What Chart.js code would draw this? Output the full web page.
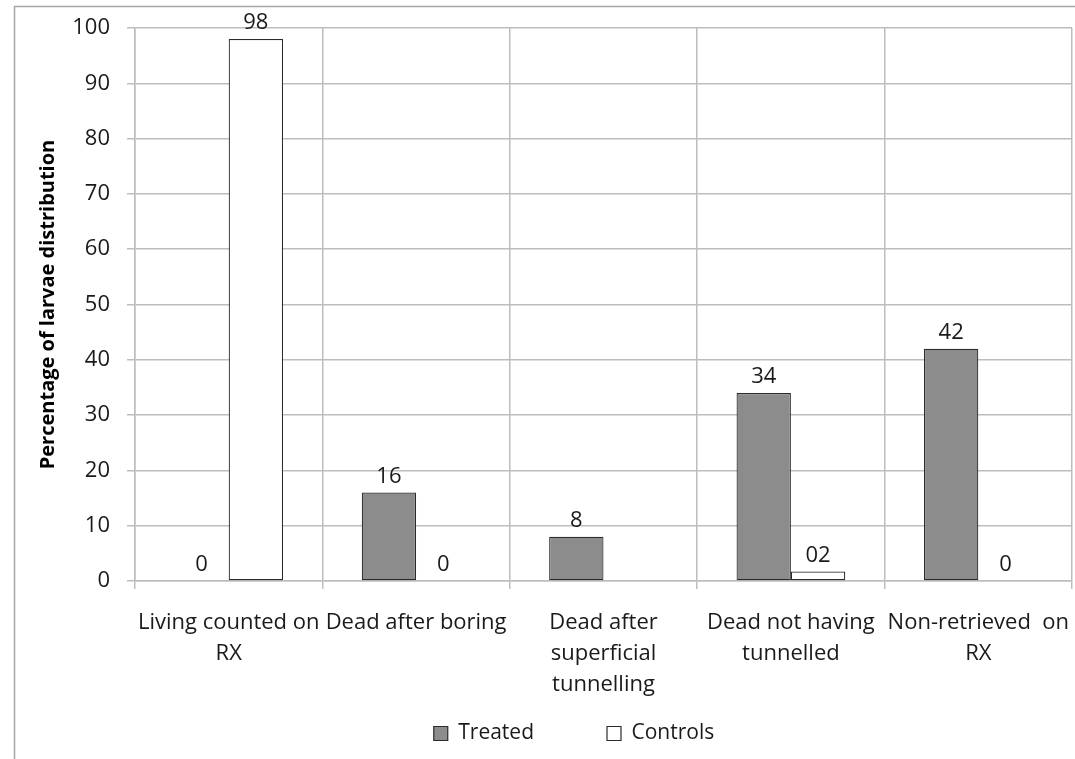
<!DOCTYPE html>
<html>
<head>
<meta charset="utf-8">
<script src="https://cdn.jsdelivr.net/npm/chart.js@4.4.0/dist/chart.umd.min.js"></script>
<style>
  html, body { margin: 0; padding: 0; background: #fff; }
  #wrap { width: 1075px; height: 759px; position: relative; }
</style>
</head>
<body>
<div id="wrap"><canvas id="c" width="1075" height="759"></canvas></div>
<script>
const categories = [
  ["Living counted on", "RX"],
  "Dead after boring",
  ["Dead after", "superficial", "tunnelling"],
  ["Dead not having", "tunnelled"],
  ["Non-retrieved  on", "RX"]
];
const treatedValues = [0, 16, 8, 34, 42];
const controlValues = [98, 0, null, 1.7, 0];
const treatedLabels = ["0", "16", "8", "34", "42"];
const controlLabels = ["98", "0", "", "02", "0"];
const yTicks = [0, 10, 20, 30, 40, 50, 60, 70, 80, 90, 100];

const FONT = "'Open Sans'";
const gridColor = "#bdbdbd";
const edge = "#2b2b2b";

const framePlugin = {
  id: "frame",
  beforeDraw(chart) {
    const ctx = chart.ctx;
    ctx.save();
    ctx.fillStyle = "#fff";
    ctx.fillRect(0, 0, chart.width, chart.height);
    ctx.strokeStyle = "#a6a6a6";
    ctx.lineWidth = 1.5;
    ctx.beginPath();
    ctx.moveTo(14.5, chart.height);
    ctx.lineTo(14.5, 6.5);
    ctx.lineTo(chart.width, 6.5);
    ctx.stroke();
    ctx.restore();
  }
};

// category labels run past the axis box into the legend band, and the legend sits right of centre, as in the source
const layoutTweak = {
  id: "layoutTweak",
  afterLayout(chart) {
    chart.scales.x.bottom = chart.height;
    chart.legend.left += 31;
    chart.legend.right += 31;
  }
};

const labelPlugin = {
  id: "valueLabels",
  afterDatasetsDraw(chart) {
    const ctx = chart.ctx;
    ctx.save();
    ctx.font = "22px " + FONT;
    ctx.fillStyle = "#1a1a1a";
    ctx.textAlign = "center";
    ctx.textBaseline = "middle";
    const sets = [treatedLabels, controlLabels];
    chart.data.datasets.forEach((ds, di) => {
      const meta = chart.getDatasetMeta(di);
      meta.data.forEach((bar, i) => {
        const txt = sets[di][i];
        if (!txt || ds.data[i] === null) return;
        ctx.fillText(txt, bar.x, bar.y - 16);
      });
    });
    ctx.restore();
  }
};

const bw = (c) => (c.raw === 0 ? 0 : 1.2);

new Chart(document.getElementById("c"), {
  type: "bar",
  data: {
    labels: categories,
    datasets: [
      {
        label: "Treated",
        data: treatedValues,
        backgroundColor: "#8c8c8c",
        borderColor: edge,
        borderWidth: bw,
        borderSkipped: false,
        categoryPercentage: 0.58,
        barPercentage: 1.0
      },
      {
        label: "Controls",
        data: controlValues,
        backgroundColor: "#ffffff",
        borderColor: edge,
        borderWidth: bw,
        borderSkipped: false,
        categoryPercentage: 0.58,
        barPercentage: 1.0
      }
    ]
  },
  options: {
    responsive: false,
    animation: false,
    devicePixelRatio: 1,
    layout: { padding: { left: 14, right: 3, top: 28, bottom: 5 } },
    plugins: {
      tooltip: { enabled: false },
      legend: {
        position: "bottom",
        labels: {
          font: { family: FONT, size: 21 },
          color: "#1a1a1a",
          boxWidth: 14,
          boxHeight: 14,
          padding: 73,
          generateLabels(chart) {
            return chart.data.datasets.map((ds, i) => ({
              text: ds.label,
              fillStyle: ds.backgroundColor,
              strokeStyle: edge,
              lineWidth: 1.2,
              hidden: false,
              datasetIndex: i,
              fontColor: "#1a1a1a"
            }));
          }
        }
      }
    },
    scales: {
      x: {
        offset: true,
        grid: { offset: true, color: gridColor, lineWidth: 1.5, tickLength: 8 },
        border: { color: gridColor, width: 1.5 },
        ticks: {
          font: { family: FONT, size: 22, lineHeight: 1.42 },
          color: "#1a1a1a",
          padding: 18,
          maxRotation: 0,
          autoSkip: false
        },
        afterFit(s) { s.height = 69; s.paddingLeft = 0; s.paddingRight = 0; }
      },
      y: {
        min: 0,
        max: 100,
        afterBuildTicks(s) { s.ticks = yTicks.map(v => ({ value: v })); },
        grid: { color: gridColor, lineWidth: 1.5, tickLength: 8 },
        border: { color: gridColor, width: 1.5 },
        ticks: {
          font: { family: FONT, size: 22 },
          color: "#1a1a1a",
          padding: 17
        },
        title: {
          display: true,
          text: "Percentage of larvae distribution",
          font: { family: FONT, size: 20, weight: "bold" },
          color: "#000",
          padding: { top: 22, bottom: 0 }
        },
        afterFit(s) { s.width = 121; s.paddingTop = 0; s.paddingBottom = 0; }
      }
    }
  },
  plugins: [framePlugin, layoutTweak, labelPlugin]
});
</script>
</body>
</html>
